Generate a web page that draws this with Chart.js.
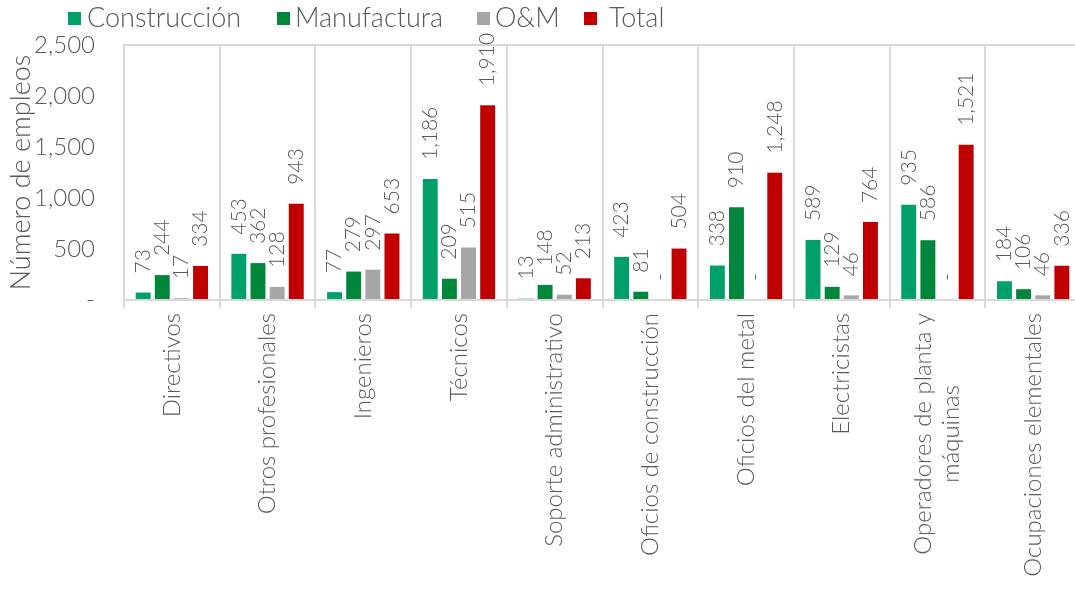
<!DOCTYPE html>
<html>
<head>
<meta charset="utf-8">
<script src="https://cdn.jsdelivr.net/npm/chart.js@4/dist/chart.umd.min.js"></script>
<style>
  html, body { margin: 0; padding: 0; overflow: hidden; background: #fff; }
  #wrap { width: 1082px; height: 592px; }
</style>
</head>
<body>
<div id="wrap"><canvas id="chart"></canvas></div>
<script>
const categories = [
  "Directivos",
  "Otros profesionales",
  "Ingenieros",
  "Técnicos",
  "Soporte administrativo",
  "Oficios de construcción",
  "Oficios del metal",
  "Electricistas",
  ["Operadores de planta y", "máquinas"],
  "Ocupaciones elementales"
];
const construccion = [73, 453, 77, 1186, 13, 423, 338, 589, 935, 184];
const manufactura = [244, 362, 279, 209, 148, 81, 910, 129, 586, 106];
const om = [17, 128, 297, 515, 52, 0, 0, 46, 0, 46];
const total = [334, 943, 653, 1910, 213, 504, 1248, 764, 1521, 336];
const yTicks = [0, 500, 1000, 1500, 2000, 2500];

const FONT = "Lato, 'Open Sans', sans-serif";
const TEXT = "#595959";
const GRID = "#d9d9d9";

// legend swatch / text positions along the top row
const legendBoxX = [68, 277, 477, 584];
const legendTextX = [87, 295, 495, 609];

const fmt = v => v === 0 ? "-" : v.toLocaleString("en-US");

// numbers above every bar, written bottom-to-top
const valueLabels = {
  id: "valueLabels",
  afterDatasetsDraw(chart) {
    const ctx = chart.ctx;
    ctx.save();
    ctx.font = "300 21px " + FONT;
    ctx.fillStyle = TEXT;
    ctx.textAlign = "left";
    ctx.textBaseline = "middle";
    chart.data.datasets.forEach((ds, i) => {
      chart.getDatasetMeta(i).data.forEach((bar, j) => {
        ctx.save();
        ctx.translate(bar.x, bar.y - 19);
        ctx.rotate(-Math.PI / 2);
        ctx.fillText(fmt(ds.data[j]), 0, 0);
        ctx.restore();
      });
    });
    ctx.restore();
  }
};

// vertical category names under the axis, lines centred on each other
const categoryLabels = {
  id: "categoryLabels",
  afterDraw(chart) {
    const ctx = chart.ctx;
    const x = chart.scales.x;
    const lh = 28;
    ctx.save();
    ctx.font = "300 24px " + FONT;
    ctx.fillStyle = TEXT;
    ctx.textAlign = "center";
    ctx.textBaseline = "middle";
    categories.forEach((lab, i) => {
      const lines = Array.isArray(lab) ? lab : [lab];
      const maxW = Math.max(...lines.map(l => ctx.measureText(l).width));
      ctx.save();
      ctx.translate(x.getPixelForTick(i), x.top + 13 + maxW / 2);
      ctx.rotate(-Math.PI / 2);
      lines.forEach((l, k) => {
        ctx.fillText(l, 0, (k - (lines.length - 1) / 2) * lh);
      });
      ctx.restore();
    });
    ctx.restore();
  }
};

// legend row across the top
const topLegend = {
  id: "topLegend",
  afterDraw(chart) {
    const ctx = chart.ctx;
    const cy = 18;
    ctx.save();
    ctx.font = "300 27px " + FONT;
    ctx.textBaseline = "middle";
    ctx.textAlign = "left";
    chart.data.datasets.forEach((ds, i) => {
      ctx.fillStyle = ds.backgroundColor;
      ctx.fillRect(legendBoxX[i], cy - 6, 13, 13);
      ctx.fillStyle = TEXT;
      ctx.fillText(ds.label, legendTextX[i], cy);
    });
    ctx.restore();
  }
};

new Chart(document.getElementById("chart"), {
  type: "bar",
  data: {
    labels: categories,
    datasets: [
      { label: "Construcción", data: construccion, backgroundColor: "#00a06b" },
      { label: "Manufactura", data: manufactura, backgroundColor: "#00873c" },
      { label: "O&M", data: om, backgroundColor: "#a6a6a6" },
      { label: "Total", data: total, backgroundColor: "#c00000" }
    ]
  },
  options: {
    responsive: true,
    maintainAspectRatio: false,
    animation: false,
    layout: { padding: { top: 45, right: 1, left: 0, bottom: 0 } },
    datasets: { bar: { categoryPercentage: 0.8, barPercentage: 0.78, borderWidth: 0 } },
    plugins: { legend: { display: false }, tooltip: { enabled: false } },
    scales: {
      x: {
        ticks: { display: false },
        grid: { offset: true, color: GRID, lineWidth: 2, tickLength: 8 },
        border: { display: true, color: GRID, width: 2 },
        afterFit: s => { s.height = 292; }
      },
      y: {
        min: 0,
        max: 2500,
        afterBuildTicks: s => { s.ticks = yTicks.map(v => ({ value: v })); },
        ticks: {
          padding: 29,
          color: TEXT,
          font: { family: FONT, size: 24, weight: 300 },
          callback: v => fmt(v)
        },
        grid: {
          drawTicks: false,
          lineWidth: 2,
          color: c => c.tick && c.tick.value === 2500 ? GRID : "rgba(0,0,0,0)"
        },
        border: { display: true, color: GRID, width: 2 },
        title: {
          display: true,
          text: "Número de empleos",
          color: TEXT,
          font: { family: FONT, size: 27, weight: 300 },
          padding: { top: 5, bottom: 0 }
        },
        afterFit: s => { s.width = 124; }
      }
    }
  },
  plugins: [valueLabels, categoryLabels, topLegend]
});
</script>
</body>
</html>
